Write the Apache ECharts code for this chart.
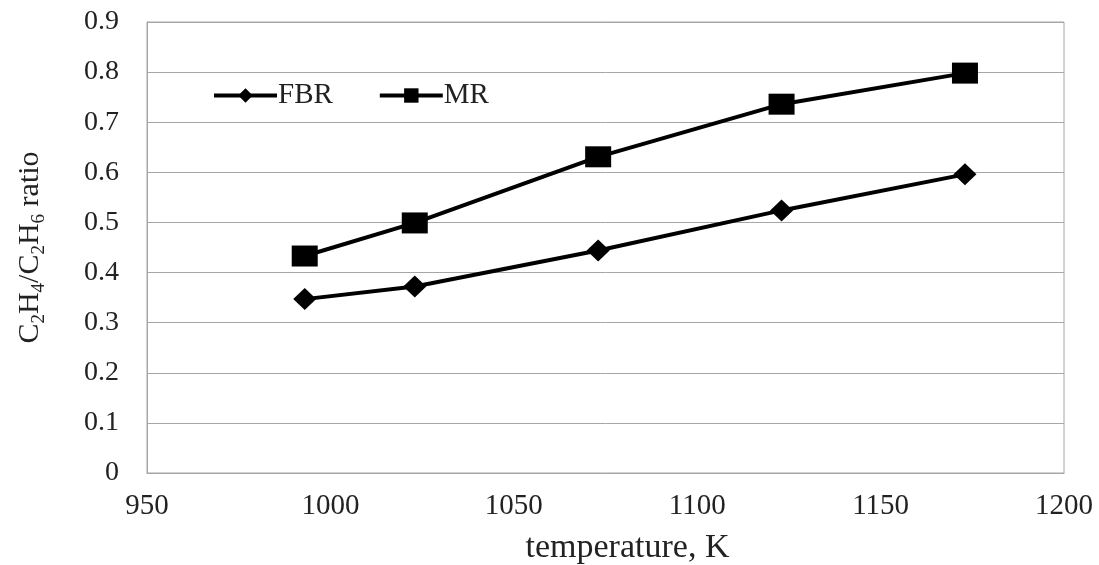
<!DOCTYPE html>
<html>
<head>
<meta charset="utf-8">
<script src="https://cdn.jsdelivr.net/npm/echarts@6/dist/echarts.min.js"></script>
<style>
html,body{margin:0;padding:0;background:#fff;}
#c{width:1099px;height:565px;}
</style>
</head>
<body>
<div id="c"></div>
<script>
const temperatures = [993, 1023, 1073, 1123, 1173];
const fbrRatio = [0.347, 0.372, 0.444, 0.524, 0.596];
const mrRatio = [0.433, 0.499, 0.631, 0.736, 0.798];
const seriesNames = ['FBR', 'MR'];
const xTicks = [950, 1000, 1050, 1100, 1150, 1200];
const yTicks = [0, 0.1, 0.2, 0.3, 0.4, 0.5, 0.6, 0.7, 0.8, 0.9];

const font = '"Liberation Serif", "Times New Roman", serif';
const gridColor = '#a6a6a6';

const chart = echarts.init(document.getElementById('c'), null, {renderer: 'canvas'});
chart.setOption({
  backgroundColor: '#fff',
  animation: false,
  textStyle: {fontFamily: font},
  grid: {left: 147, right: 35, top: 22, bottom: 92, show: true, borderColor: gridColor, borderWidth: 1,
    containLabel: false, outerBoundsMode: 'none'},
  legend: {
    data: seriesNames,
    left: 207, top: 76,
    itemWidth: 63, itemHeight: 18, itemGap: 45,
    lineStyle: {width: 4},
    textStyle: {fontFamily: font, fontSize: 29, color: '#222', padding: [0, 0, 0, -4]}
  },
  xAxis: {
    type: 'value',
    min: xTicks[0], max: xTicks[xTicks.length - 1], interval: 50,
    name: 'temperature, K', nameLocation: 'middle', nameGap: 58,
    nameTextStyle: {fontFamily: font, fontSize: 34, color: '#222', padding: [0, 0, 0, 44]},
    axisLine: {show: true, lineStyle: {color: gridColor, width: 1}},
    axisTick: {show: false},
    splitLine: {show: false},
    axisLabel: {fontFamily: font, fontSize: 29, color: '#222', margin: 19,
      formatter: v => String(v)}
  },
  yAxis: {
    type: 'value',
    min: yTicks[0], max: yTicks[yTicks.length - 1], interval: 0.1,
    name: '{n|C}{s|2}{n|H}{s|4}{n|/C}{s|2}{n|H}{s|6}{n| ratio}',
    nameLocation: 'middle', nameRotate: 90, nameGap: 102,
    nameTextStyle: {
      fontFamily: font, color: '#222',
      rich: {
        n: {fontFamily: font, fontSize: 30, lineHeight: 30, verticalAlign: 'top', color: '#222'},
        s: {fontFamily: font, fontSize: 19, lineHeight: 19, verticalAlign: 'top', padding: [15, 0, 0, 0], color: '#222'}
      }
    },
    axisLine: {show: true, lineStyle: {color: gridColor, width: 1}},
    axisTick: {show: false},
    splitLine: {show: true, lineStyle: {color: gridColor, width: 1}},
    axisLabel: {fontFamily: font, fontSize: 28, color: '#222', margin: 28,
      formatter: v => (Math.round(v * 10) / 10).toString()}
  },
  series: [
    {
      name: seriesNames[0], type: 'line',
      data: temperatures.map((t, i) => [t, fbrRatio[i]]),
      symbol: 'diamond', symbolSize: [23, 22],
      lineStyle: {color: '#000', width: 4},
      itemStyle: {color: '#000'}
    },
    {
      name: seriesNames[1], type: 'line',
      data: temperatures.map((t, i) => [t, mrRatio[i]]),
      symbol: 'rect', symbolSize: [26, 21],
      lineStyle: {color: '#000', width: 4},
      itemStyle: {color: '#000'}
    }
  ]
});
</script>
</body>
</html>
